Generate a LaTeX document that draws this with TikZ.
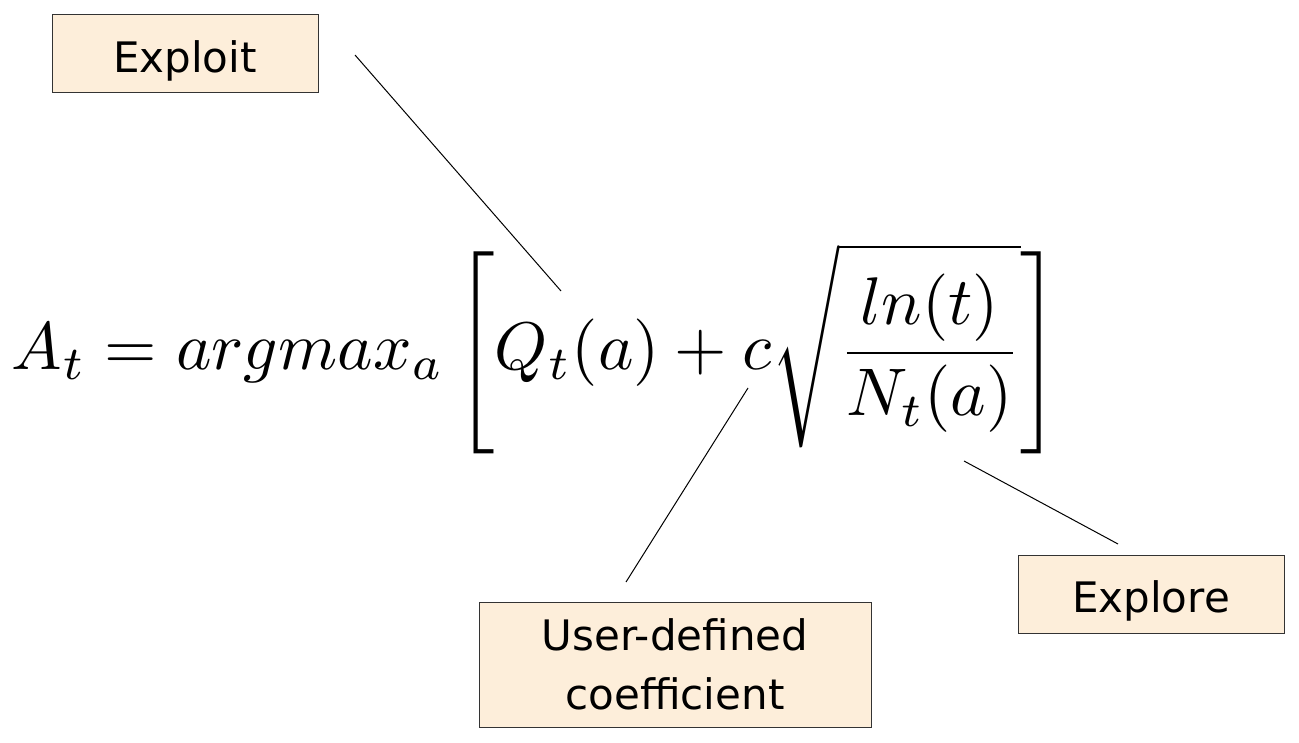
\documentclass[tikz,border=0pt]{standalone}
\usepackage{amsmath}
\usepackage{fontspec}
\setmainfont{DejaVu Sans}
\definecolor{peach}{HTML}{FDEEDA}
\begin{document}
\begin{tikzpicture}[x=0.5pt,y=-0.5pt,
  lbl/.style={draw=black!80, line width=0.5pt, fill=peach, font=\fontsize{21}{27}\selectfont, inner sep=0pt, align=center},
  conn/.style={line width=0.5pt, black}]
\useasboundingbox (0,0) rectangle (1299,743);
\node[lbl, minimum width=133pt, text height=29pt, text depth=10pt] (exploit) at (185,54) {Exploit};
\node[lbl, minimum width=196pt, minimum height=62.5pt] (coef) at (675,664.5) {User-defined\\[2.5pt]coefficient};
\node[lbl, minimum width=133pt, text height=28.5pt, text depth=10.5pt] (explore) at (1151,594) {Explore};
\node[inner sep=0pt] (formula) at (536,348.5) {\resizebox{524pt}{!}{$\displaystyle A_t = argmax_a \left[ Q_t(a) + c\sqrt{\frac{ln(t)}{N_t(a)}} \right]$}};
\coordinate (e1) at (355,55);
\coordinate (e2) at (561,291);
\coordinate (c1) at (748,388);
\coordinate (c2) at (626,582);
\coordinate (x1) at (964,461);
\coordinate (x2) at (1118,544);
\draw[conn] (e1) -- (e2);
\draw[conn] (c1) -- (c2);
\draw[conn] (x1) -- (x2);
\end{tikzpicture}
\end{document}
